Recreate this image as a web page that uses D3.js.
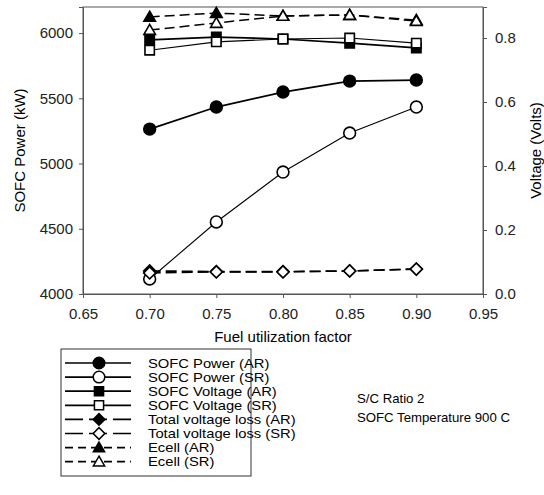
<!DOCTYPE html>
<html>
<head>
<meta charset="utf-8">
<script src="https://cdn.jsdelivr.net/npm/d3@7"></script>
<style>
  body { margin: 0; background: #fff; }
  svg { font-family: Arial, "Liberation Sans", sans-serif; }
  .axis path, .axis line { stroke: #555; }
  .axis text { font-size: 15px; fill: #222; }
</style>
</head>
<body>
<div id="chart"></div>
<script>
// fuel utilization factor
var fuelUtil = [0.70, 0.75, 0.80, 0.85, 0.90];

// left axis (kW)
var powerAR = [5264, 5433, 5548, 5632, 5640];
var powerSR = [4115, 4552, 4935, 5234, 5433];

// right axis (Volts)
var voltageAR = [0.794, 0.803, 0.797, 0.784, 0.769];
var voltageSR = [0.762, 0.788, 0.797, 0.800, 0.784];
var lossAR = [0.072, 0.070, 0.070, 0.072, 0.078];
var lossSR = [0.066, 0.069, 0.069, 0.072, 0.078];
var ecellAR = [0.866, 0.878, 0.869, 0.872, 0.856];
var ecellSR = [0.825, 0.847, 0.869, 0.872, 0.853];

var xTicks = [0.65, 0.70, 0.75, 0.80, 0.85, 0.90, 0.95];
var leftTicks = [4000, 4500, 5000, 5500, 6000];
var rightTicks = [0.0, 0.2, 0.4, 0.6, 0.8];

var notes = ['S/C Ratio 2', 'SOFC Temperature 900 C'];

var series = [
  {name: 'SOFC Power (AR)', values: powerAR, axis: 'left', shape: 'circle', fill: '#000', width: 1.7, dash: null},
  {name: 'SOFC Power (SR)', values: powerSR, axis: 'left', shape: 'circle', fill: '#fff', width: 1.1, dash: null},
  {name: 'SOFC Voltage (AR)', values: voltageAR, axis: 'right', shape: 'square', fill: '#000', width: 1.7, dash: null},
  {name: 'SOFC Voltage (SR)', values: voltageSR, axis: 'right', shape: 'square', fill: '#fff', width: 1.1, dash: null},
  {name: 'Total voltage loss (AR)', values: lossAR, axis: 'right', shape: 'diamond', fill: '#000', width: 1.7, dash: '11,5'},
  {name: 'Total voltage loss (SR)', values: lossSR, axis: 'right', shape: 'diamond', fill: '#fff', width: 1.5, dash: '11,5'},
  {name: 'Ecell (AR)', values: ecellAR, axis: 'right', shape: 'triangle', fill: '#000', width: 1.5, dash: '10,5'},
  {name: 'Ecell (SR)', values: ecellSR, axis: 'right', shape: 'triangle', fill: '#fff', width: 1.5, dash: '10,5'}
];

var margin = {top: 7, right: 61, bottom: 201, left: 83};
var containerWidth = 544;
var containerHeight = 495;
var width = containerWidth - margin.left - margin.right;
var height = containerHeight - margin.top - margin.bottom;

var root = d3.select('#chart').append('svg')
  .attr('width', containerWidth)
  .attr('height', containerHeight);

var svg = root.append('g')
  .attr('transform', `translate(${margin.left}, ${margin.top})`);

var xScale = d3.scaleLinear().domain([0.65, 0.95]).range([0, width]);
var yLeft = d3.scaleLinear().domain([4000, 6200]).range([height, 0]);
var yRight = d3.scaleLinear().domain([0, 0.897]).range([height, 0]);

// frame
svg.append('rect')
  .attr('width', width).attr('height', height)
  .attr('fill', 'none').attr('stroke', '#555');

svg.append('g').attr('class', 'axis')
  .attr('transform', `translate(0,${height})`)
  .call(d3.axisBottom(xScale).tickValues(xTicks).tickFormat(d3.format('.2f')).tickSize(4).tickPadding(10));

svg.append('g').attr('class', 'axis')
  .call(d3.axisLeft(yLeft).tickValues(leftTicks).tickFormat(d3.format('d')).tickSize(4).tickPadding(6));

svg.append('g').attr('class', 'axis')
  .attr('transform', `translate(${width},0)`)
  .call(d3.axisRight(yRight).tickValues(rightTicks).tickFormat(d3.format('.1f')).tickSize(4).tickPadding(8));

// axis titles
svg.append('text')
  .attr('x', width / 2).attr('y', height + 48)
  .attr('text-anchor', 'middle').attr('font-size', 15)
  .text('Fuel utilization factor');

svg.append('text')
  .attr('transform', `translate(${-58},${height / 2}) rotate(-90)`)
  .attr('text-anchor', 'middle').attr('font-size', 15)
  .text('SOFC Power (kW)');

svg.append('text')
  .attr('transform', `translate(${width + 58},${height / 2}) rotate(-90)`)
  .attr('text-anchor', 'middle').attr('font-size', 15)
  .text('Voltage (Volts)');

var symbolTypes = {circle: d3.symbolCircle, square: d3.symbolSquare, diamond: d3.symbolSquare, triangle: d3.symbolTriangle};
var symbolSizes = {circle: 110, square: 88, diamond: 72, triangle: 58};

function symbolFor(shape, scale) {
  return d3.symbol().type(symbolTypes[shape]).size(symbolSizes[shape] * (scale || 1))();
}

function markerTransform(shape, x, y) {
  return `translate(${x},${y})` + (shape === 'diamond' ? ' rotate(45)' : '') + (shape === 'triangle' ? ' translate(0,1)' : '');
}

// lines first, then markers; SR drawn after AR so open symbols sit on top
series.forEach(function(s) {
  var yScale = s.axis === 'left' ? yLeft : yRight;
  var line = d3.line()
    .x((d, i) => xScale(fuelUtil[i]))
    .y(d => yScale(d));
  svg.append('path')
    .datum(s.values)
    .attr('d', line)
    .attr('fill', 'none')
    .attr('stroke', '#000')
    .attr('stroke-width', s.width)
    .attr('stroke-dasharray', s.dash);
});

series.forEach(function(s) {
  var yScale = s.axis === 'left' ? yLeft : yRight;
  svg.selectAll(null)
    .data(s.values)
    .enter()
    .append('path')
    .attr('d', symbolFor(s.shape))
    .attr('transform', (d, i) => markerTransform(s.shape, xScale(fuelUtil[i]), yScale(d)))
    .attr('fill', s.fill)
    .attr('stroke', '#000')
    .attr('stroke-width', 1.6);
});

// legend
var legend = root.append('g').attr('transform', 'translate(61,349)');
legend.append('rect')
  .attr('width', 190).attr('height', 127)
  .attr('fill', '#fff').attr('stroke', '#333');

var rows = legend.selectAll('.row')
  .data(series)
  .enter()
  .append('g')
  .attr('class', 'row')
  .attr('transform', (d, i) => `translate(0,${14 + i * 14.1})`);

rows.append('line')
  .attr('x1', 4).attr('x2', 70)
  .attr('stroke', '#000')
  .attr('stroke-width', 1.7)
  .attr('stroke-dasharray', d => d.shape === 'diamond' ? '18,6' : (d.dash ? '8,5' : null));

rows.append('path')
  .attr('d', d => symbolFor(d.shape, 0.95))
  .attr('transform', d => markerTransform(d.shape, 38, 0))
  .attr('fill', d => d.fill)
  .attr('stroke', '#000')
  .attr('stroke-width', 1.5);

// legend text is wide in the original, so stretch it a little
rows.append('text')
  .attr('transform', 'translate(87,4.5) scale(1.2,1)')
  .attr('font-size', 12.3)
  .text(d => d.name);

root.selectAll('.note')
  .data(notes)
  .enter()
  .append('text')
  .attr('class', 'note')
  .attr('x', 357)
  .attr('y', (d, i) => 403 + i * 19)
  .attr('font-size', 13.2)
  .text(d => d);
</script>
</body>
</html>
